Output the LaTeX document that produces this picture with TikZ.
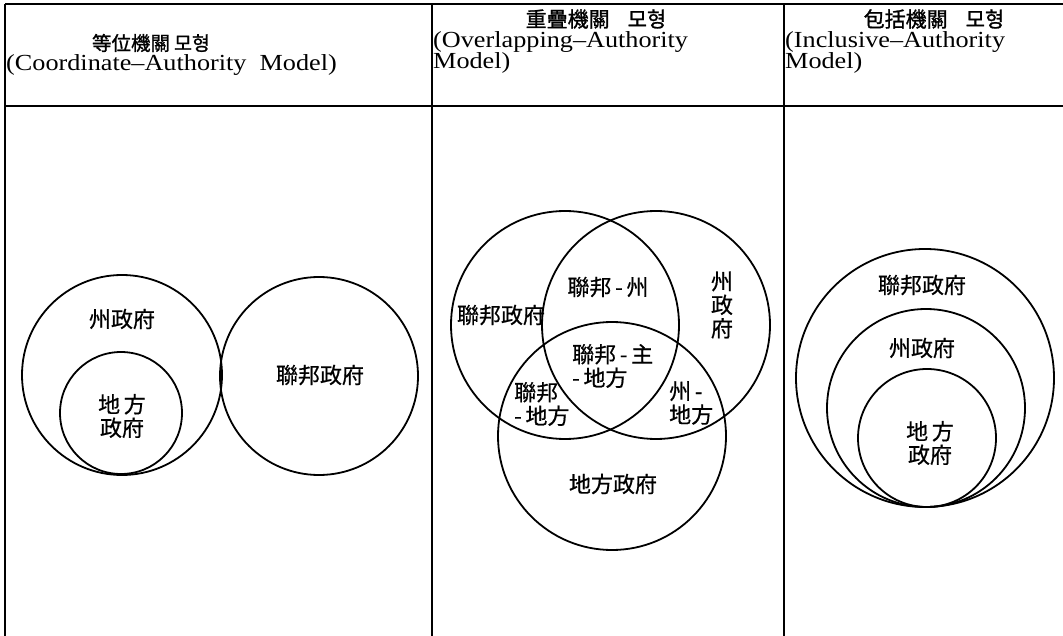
\documentclass[tikz,border=0pt]{standalone}
\usepackage{fontspec}
\setmainfont{Liberation Serif}[FakeStretch=1.14]
\newfontfamily\kr{Noto Sans CJK KR}[FakeBold=0.6]
\newfontfamily\krb{Noto Sans CJK KR}[FakeBold=1.2]
\begin{document}
\begin{tikzpicture}[x=1pt,y=-1pt,
  ring/.style={circle, draw, line width=1.8pt, inner sep=0pt},
  grid/.style={line width=1.3pt},
  lat/.style={font=\fontsize{23}{23}\selectfont, anchor=west, inner sep=0pt},
  cjk/.style={font=\kr\fontsize{22}{23.5}\selectfont, inner sep=0pt, align=center},
  ttl/.style={font=\krb\fontsize{21}{22}\selectfont, inner sep=0pt},
  ttla/.style={font=\krb\fontsize{19.5}{20}\selectfont, inner sep=0pt}]
\useasboundingbox (0,0) rectangle (1063,636);
% table
\draw[grid] (5,4) -- (1063,4);
\draw[grid] (5,106) -- (1063,106);
\draw[grid] (5,4) -- (5,636);
\draw[grid] (432,4) -- (432,636);
\draw[grid] (784,4) -- (784,636);
% headers
\node[ttla] (t1) at (151,43) {等位機關\hspace{4pt}모형};
\node[lat] (l1) at (6,65) {(Coordinate–Authority\ \ Model)};
\node[ttl] (t2) at (596,19) {重疊機關\hspace{18pt}모형};
\node[lat] (l2a) at (433,42) {(Overlapping–Authority};
\node[lat] (l2b) at (433,63) {Model)};
\node[ttl] (t3) at (934,19) {包括機關\hspace{18pt}모형};
\node[lat] (l3a) at (785,42) {(Inclusive–Authority};
\node[lat] (l3b) at (785,63) {Model)};
% panel 1
\node[ring, minimum size=200pt] (p1a) at (122,375) {};
\node[ring, minimum size=122pt] (p1b) at (121,413) {};
\node[ring, minimum size=198pt] (p1c) at (319,376) {};
\node[cjk] (p1la) at (122,319) {州政府};
\node[cjk] (p1lb) at (122,416) {地\,方\\政府};
\node[cjk] (p1lc) at (320,375) {聯邦政府};
% panel 2
\node[ring, minimum size=228pt] (p2l) at (565,325) {};
\node[ring, minimum size=228pt] (p2r) at (656,325) {};
\node[ring, minimum size=228pt] (p2b) at (612,436) {};
\node[cjk] (p2a) at (608,287) {聯邦\,-\,州};
\node[cjk] (p2s) at (722,305) {州\\政\\府};
\node[cjk] (p2f) at (501,315) {聯邦政府};
\node[cjk, anchor=west, align=left] (p2c) at (572,366) {聯邦\,-\,主\\-\,地方};
\node[cjk, anchor=west, align=left] (p2d) at (514,404) {聯邦\\-\,地方};
\node[cjk, anchor=west, align=left] (p2e) at (669,403) {州\,-\\地方};
\node[cjk] (p2g) at (613,484) {地方政府};
% panel 3
\node[ring, minimum size=258pt] (p3a) at (925,378) {};
\node[ring, minimum size=198pt] (p3b) at (926,408) {};
\node[ring, minimum size=138pt] (p3c) at (927,438) {};
\node[cjk] (p3la) at (922,285) {聯邦政府};
\node[cjk] (p3lb) at (922,348) {州政府};
\node[cjk] (p3lc) at (930,443) {地\,方\\政府};
\end{tikzpicture}
\end{document}
